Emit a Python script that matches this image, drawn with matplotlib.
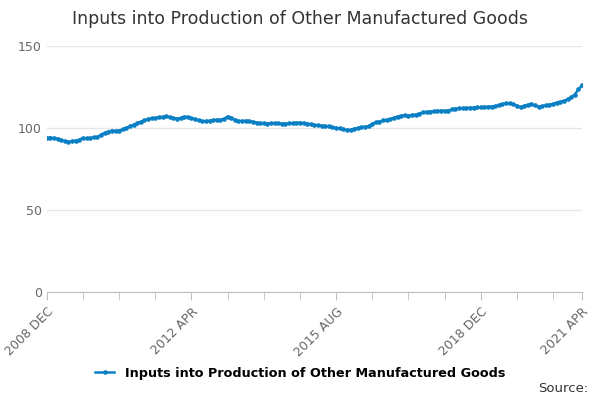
import matplotlib
matplotlib.use("Agg")
import matplotlib.pyplot as plt
import numpy as np

values = [94.0,94.2,93.8,93.5,92.5,92.0,91.6,91.8,92.3,92.8,
93.9,93.6,94.0,94.3,94.5,96.0,97.0,97.8,98.4,98.2,
98.4,99.2,100.2,101.0,102.0,103.0,103.8,104.6,105.5,105.8,
106.0,106.5,106.8,107.1,106.6,106.0,105.7,105.9,106.9,106.7,
106.0,105.3,104.6,104.0,104.2,104.5,104.8,105.0,104.9,105.6,
107.0,106.3,105.0,104.3,104.2,104.4,104.3,103.8,103.3,103.0,
102.9,102.7,102.9,103.0,102.9,102.6,102.7,102.8,103.0,103.2,
103.3,103.0,102.7,102.3,101.8,101.6,101.4,101.2,101.0,100.5,
100.0,99.7,99.2,98.8,98.9,99.5,100.0,100.4,100.8,101.0,
102.5,103.5,103.9,104.6,105.0,105.5,106.2,107.0,107.5,107.8,
107.6,107.9,108.2,108.8,109.6,109.8,110.0,110.2,110.4,110.6,
110.5,110.6,111.3,111.8,112.0,112.1,112.2,112.3,112.5,112.6,
112.7,112.8,113.0,113.1,113.3,114.0,114.6,115.0,115.1,114.5,
113.6,112.7,113.5,114.2,114.7,113.8,112.9,113.4,113.8,114.2,
114.7,115.5,116.0,116.5,117.5,118.8,120.4,123.5,126.0]
tick_labels = ["2008 DEC", "2012 APR", "2015 AUG", "2018 DEC", "2021 APR"]
tick_pos = [0, 40, 80, 120, 148]
series_name = "Inputs into Production of Other Manufactured Goods"

fig = plt.figure(figsize=(6, 4), dpi=100)
ax = fig.add_axes([0.078, 0.27, 0.892, 0.615])
x = np.arange(len(values))
ax.plot(x, values, color="#0a7fc4", lw=1.8, marker="o", ms=2.3, label=series_name)
ax.set_xlim(0, len(values) - 1)
ax.set_ylim(0, 150)
ax.set_yticks([0, 50, 100, 150])
ax.yaxis.grid(True, color="#e6e6e6", lw=1)
ax.set_axisbelow(True)
for s in ["top", "right", "left"]:
    ax.spines[s].set_visible(False)
ax.spines["bottom"].set_color("#c0c0c0")
ax.tick_params(axis="y", length=0, labelcolor="#666666", labelsize=9)
ax.set_xticks(tick_pos)
ax.set_xticks(range(0, 149, 10), minor=True)
ax.set_xticklabels(tick_labels, rotation=45, ha="right", rotation_mode="anchor", fontsize=9, color="#666666")
ax.tick_params(axis="x", which="both", color="#c0c0c0", length=6)
fig.suptitle("Inputs into Production of Other Manufactured Goods", y=0.975, fontsize=12.5, color="#333333")
fig.legend(loc="center", bbox_to_anchor=(0.5, 0.067), frameon=False,
           handlelength=1.5, prop={"weight": "bold", "size": 9.2})
fig.text(0.98, 0.02, "Source:", ha="right", fontsize=9.5, color="#333333")
fig.savefig("out.png")
